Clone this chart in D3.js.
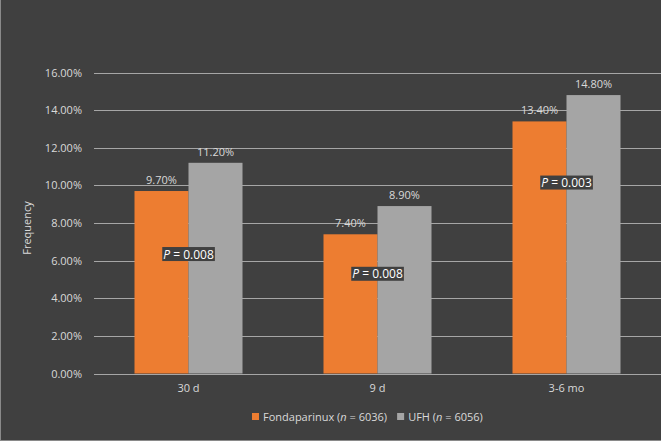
<!DOCTYPE html>
<html><head><meta charset="utf-8">
<script src="https://cdn.jsdelivr.net/npm/d3@7/dist/d3.min.js"></script>
<style>
html,body{margin:0;padding:0;background:#404040;}
svg{display:block;}
text{font-family:"Open Sans",sans-serif;}
</style></head>
<body>
<script>
const categories = ["30 d", "9 d", "3-6 mo"];
const seriesNames = ["Fondaparinux", "UFH"];
const seriesN = [6036, 6056];
const fondaparinux = [9.7, 7.4, 13.4];
const ufh = [11.2, 8.9, 14.8];
const pValues = ["0.008", "0.008", "0.003"];
const pLabelLevel = [6.35, 5.3, 10.15];
const yTicks = [0, 2, 4, 6, 8, 10, 12, 14, 16];
const colors = ["#ED7D31", "#A5A5A5"];

const W = 661, H = 441;
const svg = d3.select("body").append("svg").attr("width", W).attr("height", H);
svg.append("rect").attr("width", W).attr("height", H).attr("fill", "#404040");
svg.append("line").attr("x1", 0.5).attr("x2", 0.5).attr("y1", 0).attr("y2", H).attr("stroke", "#8a8a8a");
svg.append("line").attr("x1", 0).attr("x2", W).attr("y1", H - 0.5).attr("y2", H - 0.5).attr("stroke", "#8a8a8a");

const x0 = d3.scaleBand().domain(categories).range([94, 661]).paddingInner(0).paddingOuter(0);
const y = d3.scaleLinear().domain([0, 16]).range([373.5, 72.5]);
const groupInner = 108 / 189;
const x1 = d3.scaleBand().domain(seriesNames)
  .range([x0.bandwidth() * (1 - groupInner) / 2, x0.bandwidth() * (1 + groupInner) / 2]);

// gridlines
svg.append("g").selectAll("line").data(yTicks).join("line")
  .attr("x1", 94).attr("x2", 661)
  .attr("y1", d => Math.round(y(d)) + 0.5).attr("y2", d => Math.round(y(d)) + 0.5)
  .attr("stroke", "#a6a6a6").attr("stroke-width", 1);

// y axis labels
const yAxis = d3.axisLeft(y).tickValues(yTicks).tickSize(0).tickPadding(0)
  .tickFormat(d => d.toFixed(2) + "%");
const ya = svg.append("g").attr("transform", "translate(82,0)").call(yAxis);
ya.select(".domain").remove();
ya.selectAll("text").attr("fill", "#d9d9d9").attr("font-size", 11)
  .attr("font-family", "Open Sans, sans-serif");

// bars
const rows = categories.map((c, i) => ({cat: c, vals: [fondaparinux[i], ufh[i]], p: pValues[i], pl: pLabelLevel[i]}));
const g = svg.append("g").selectAll("g").data(rows).join("g")
  .attr("transform", d => `translate(${x0(d.cat)},0)`);
g.selectAll("rect").data(d => d.vals.map((v, k) => ({v, s: seriesNames[k], k}))).join("rect")
  .attr("x", d => x1(d.s)).attr("width", x1.bandwidth())
  .attr("y", d => y(d.v)).attr("height", d => y(0) - y(d.v))
  .attr("fill", d => colors[d.k]);
g.selectAll("text.val").data(d => d.vals.map((v, k) => ({v, s: seriesNames[k]}))).join("text")
  .attr("class", "val")
  .attr("x", d => x1(d.s) + x1.bandwidth() / 2).attr("y", d => y(d.v) - 7)
  .attr("text-anchor", "middle").attr("font-size", 11).attr("fill", "#d9d9d9")
  .text(d => d.v.toFixed(2) + "%");

// P labels
rows.forEach(r => {
  const cx = x0(r.cat) + x0.bandwidth() / 2;
  const cy = y(r.pl);
  const grp = svg.append("g");
  const t = grp.append("text").attr("x", cx).attr("y", cy + 4.5)
    .attr("text-anchor", "middle").attr("font-size", 12).attr("fill", "#ffffff");
  t.append("tspan").attr("font-style", "italic").text("P");
  t.append("tspan").text(" = " + r.p);
  const bb = t.node().getBBox();
  grp.insert("rect", "text").attr("x", bb.x - 1).attr("y", cy - 7).attr("width", bb.width + 2).attr("height", 14)
    .attr("fill", "#404040");
});

// x axis labels
svg.append("g").selectAll("text").data(categories).join("text")
  .attr("x", d => x0(d) + x0.bandwidth() / 2).attr("y", 392)
  .attr("text-anchor", "middle").attr("font-size", 11).attr("fill", "#d9d9d9").text(d => d);

// y title
svg.append("text").attr("transform", "translate(31,228) rotate(-90)")
  .attr("text-anchor", "middle").attr("font-size", 11).attr("fill", "#d9d9d9").text("Frequency");

// legend
const leg = svg.append("g");
let lx = 252;
seriesNames.forEach((s, k) => {
  leg.append("rect").attr("x", lx).attr("y", 413).attr("width", 7).attr("height", 7).attr("fill", colors[k]);
  const t = leg.append("text").attr("x", lx + 11).attr("y", 420.5).attr("font-size", 11).attr("fill", "#d9d9d9");
  t.append("tspan").text(s + " (");
  t.append("tspan").attr("font-style", "italic").text("n");
  t.append("tspan").text(" = " + seriesN[k] + ")");
  lx = lx + 11 + t.node().getComputedTextLength() + 10;
});
</script>
</body></html>
